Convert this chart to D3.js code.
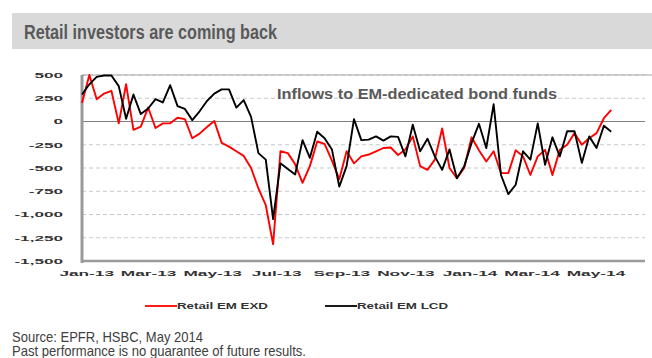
<!DOCTYPE html>
<html><head><meta charset="utf-8">
<script src="https://cdn.jsdelivr.net/npm/d3@7"></script>
<style>
html,body{margin:0;padding:0;background:#fff;}
svg{display:block;}
text{font-family:"Liberation Sans Narrow","Arial Narrow","Liberation Sans",Arial,sans-serif;}
</style></head>
<body><svg id="c" width="652" height="358"></svg>
<script>
// ---- data ----
const startDate = new Date(2012, 11, 28); // first weekly observation (Friday)
const retailEXD = [200,500,240,300,330,-20,400,-90,-55,150,-70,-20,-20,40,25,-180,-130,-60,5,-230,
  -270,-320,-370,-500,-720,-900,-1320,-320,-340,-460,-660,-480,-215,-240,-420,-620,-320,-450,-375,-355,
  -320,-285,-280,-360,-300,-160,-480,-520,-410,-75,-500,-610,-500,-170,-310,-430,-320,-555,-555,-310,
  -375,-575,-375,-305,-575,-305,-250,-125,-250,-180,-125,35,125];
const retailLCD = [290,400,480,495,495,380,30,290,80,140,240,205,390,165,135,15,110,220,300,345,
  345,150,230,50,-340,-410,-1050,-450,-510,-570,-200,-390,-110,-180,-300,-700,-480,25,-200,-195,
  -160,-205,-160,-165,-375,-35,-320,-185,-375,-520,-300,-610,-480,-230,-25,-285,185,-575,-780,-680,
  -320,-410,-20,-465,-170,-375,-105,-105,-445,-160,-285,-45,-110];
const yTicks = [500,250,0,-250,-500,-750,-1000,-1250,-1500];
const yTickLabels = ["500","250","0","-250","-500","-750","-1,000","-1,250","-1,500"];
const xTickDates = [new Date(2013,0,1),new Date(2013,2,1),new Date(2013,4,1),new Date(2013,6,1),new Date(2013,8,1),
  new Date(2013,10,1),new Date(2014,0,1),new Date(2014,2,1),new Date(2014,4,1)];
const xTickLabels = ["Jan-13","Mar-13","May-13","Jul-13","Sep-13","Nov-13","Jan-14","Mar-14","May-14"];
const seriesNames = ["Retail EM EXD","Retail EM LCD"];
const seriesColors = ["#ff0000","#000000"];

const dates = retailEXD.map((d,i)=>d3.timeDay.offset(startDate, 7*i));

const svg = d3.select("#c");
const L=82, R=648, T=75, B=261;
const x = d3.scaleTime().domain([startDate, new Date(2014,5,20)]).range([L,R]);
const y = d3.scaleLinear().domain([-1500,500]).range([B,T]);

function stretch(sel, w){ sel.attr("textLength", w).attr("lengthAdjust","spacingAndGlyphs"); }

// title band
svg.append("rect").attr("x",12).attr("y",13).attr("width",640).attr("height",36).attr("fill","#d9d9d9");
svg.append("text").attr("x",24).attr("y",39).attr("font-size",20).attr("font-weight","bold")
  .attr("fill","#595959").text("Retail investors are coming back").call(stretch,253);

// gridlines
svg.append("g").selectAll("line").data(yTicks.filter(v=>v!==0 && v!==-1500)).join("line")
  .attr("x1",L).attr("x2",645).attr("y1",d=>y(d)).attr("y2",d=>y(d))
  .attr("stroke","#c8c8c8").attr("stroke-width",1).attr("stroke-dasharray","4,3");
// top border
svg.append("line").attr("x1",L).attr("x2",652).attr("y1",y(500)).attr("y2",y(500))
  .attr("stroke","#a6a6a6").attr("stroke-width",1.2);
// zero line
svg.append("line").attr("x1",L).attr("x2",645).attr("y1",y(0)).attr("y2",y(0))
  .attr("stroke","#808080").attr("stroke-width",1.2);

// y axis
const yAxis = d3.axisLeft(y).tickValues(yTicks).tickSize(0).tickPadding(0)
  .tickFormat((d,i)=>yTickLabels[i]);
const gy = svg.append("g").attr("transform",`translate(${L-19},0)`).call(yAxis);
gy.select(".domain").remove();
gy.selectAll("text").attr("font-size",7).attr("font-weight","bold").attr("fill","#333")
  .attr("font-family","'Liberation Sans',Arial,sans-serif").attr("x",0).attr("dy","0.35em")
  .each(function(){ const w=this.getComputedTextLength(); d3.select(this).call(stretch,w*2.45); });

// x axis
const xAxis = d3.axisBottom(x).tickValues(xTickDates).tickSize(0).tickPadding(0)
  .tickFormat((d,i)=>xTickLabels[i]);
const gx = svg.append("g").attr("transform",`translate(0,${B+12})`).call(xAxis);
gx.select(".domain").remove();
gx.selectAll("text").attr("font-size",7.5).attr("font-weight","bold").attr("fill","#333")
  .attr("font-family","'Liberation Sans',Arial,sans-serif").attr("dy","0.35em")
  .each(function(){ const w=this.getComputedTextLength(); d3.select(this).call(stretch,w*2.3); });

// axis frame lines (thick gray)
svg.append("line").attr("x1",L).attr("x2",L).attr("y1",T).attr("y2",B+2)
  .attr("stroke","#9a9a9a").attr("stroke-width",3);
svg.append("line").attr("x1",L-1).attr("x2",645).attr("y1",B).attr("y2",B)
  .attr("stroke","#9a9a9a").attr("stroke-width",2.5);

// annotation
svg.append("text").attr("x",277).attr("y",99).attr("font-size",15).attr("font-weight","bold")
  .attr("fill","#595959").attr("font-family","'Liberation Sans',Arial,sans-serif")
  .text("Inflows to EM-dedicated bond funds").call(stretch,280);

// lines
const line = d3.line().x((d,i)=>x(dates[i])).y(d=>y(d)).curve(d3.curveLinear);
[retailEXD, retailLCD].forEach((s,k)=>{
  svg.append("path").datum(s).attr("d",line).attr("fill","none")
    .attr("stroke",seriesColors[k]).attr("stroke-width",1.9).attr("stroke-linejoin","round");
});

// legend
const legX = [145,325];
seriesNames.forEach((n,k)=>{
  svg.append("line").attr("x1",legX[k]).attr("x2",legX[k]+32).attr("y1",306).attr("y2",306)
    .attr("stroke",seriesColors[k]).attr("stroke-width",1.8);
  svg.append("text").attr("x",legX[k]+32).attr("y",309).attr("font-size",8.5).attr("font-weight","bold")
    .attr("fill","#333").attr("font-family","'Liberation Sans',Arial,sans-serif")
    .text(n).call(stretch,91);
});

// footer
svg.append("text").attr("x",12).attr("y",341.5).attr("font-size",14.5).attr("fill","#404040")
  .text("Source: EPFR, HSBC, May 2014").call(stretch,191);
svg.append("text").attr("x",12).attr("y",356).attr("font-size",14.5).attr("fill","#404040")
  .text("Past performance is no guarantee of future results.").call(stretch,294);
</script></body></html>
